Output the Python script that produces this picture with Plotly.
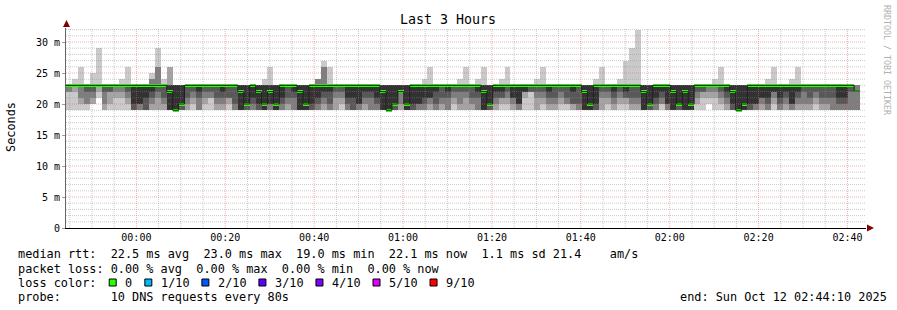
import plotly.graph_objects as go
from datetime import datetime, timedelta

# ---------------- data ----------------
start = datetime(2025, 10, 11, 23, 44, 10)
end = datetime(2025, 10, 12, 2, 44, 10)
step_s = 80

# median rtt per 80 s step (ms)
median = [23, 23, 23, 23, 23, 23, 23, 23, 23, 23,
          23, 23, 23, 23, 23, 23, 23, 22, 19, 20,
          23, 23, 23, 23, 23, 23, 23, 23, 23, 22,
          20, 23, 22, 20, 22, 20, 23, 23, 23, 22,
          20, 23, 23, 23, 23, 23, 23, 23, 23, 23,
          23, 23, 23, 22, 19, 20, 22, 20, 23, 23,
          23, 23, 23, 23, 23, 23, 23, 23, 23, 23,
          22, 20, 23, 23, 23, 23, 23, 23, 23, 23,
          23, 23, 23, 23, 23, 23, 23, 22, 20, 23,
          23, 23, 23, 23, 23, 23, 23, 22, 20, 23,
          23, 23, 22, 20, 22, 20, 23, 23, 23, 23,
          23, 23, 22, 19, 20, 23, 23, 23, 23, 23,
          23, 23, 23, 23, 23, 23, 23, 23, 23, 23,
          23, 23, 23, 22.1]

# sorted ping times, ranks 1..5 (ms)
p1 = [19, 19, 19, 19, 20, 21, 19, 19, 19, 19,
      19, 19, 19, 19, 19, 19, 19, 19, 19, 19,
      19, 19, 19, 19, 19, 19, 19, 19, 19, 19,
      19, 19, 19, 19, 19, 19, 19, 19, 19, 19,
      19, 19, 19, 19, 19, 19, 19, 19, 19, 19,
      19, 19, 19, 19, 19, 19, 19, 19, 19, 19,
      19, 19, 19, 19, 19, 19, 19, 19, 19, 19,
      19, 19, 19, 19, 19, 19, 19, 19, 19, 19,
      19, 19, 19, 19, 19, 19, 19, 19, 19, 19,
      19, 19, 19, 19, 19, 19, 19, 19, 19, 19,
      19, 19, 19, 19, 19, 19, 19, 19, 20, 19,
      19, 19, 19, 19, 19, 19, 19, 19, 19, 19,
      19, 19, 19, 19, 19, 19, 19, 19, 19, 19,
      19, 19, 19, 19]
p2 = [22, 22, 20, 20, 20, 22, 19, 20, 21, 21,
      20, 19, 19, 19, 19, 19, 19, 19, 19, 19,
      19, 20, 19, 20, 21, 19, 19, 20, 19, 19,
      19, 19, 19, 19, 19, 19, 19, 19, 19, 19,
      19, 19, 19, 19, 19, 19, 20, 19, 19, 19,
      19, 19, 19, 19, 19, 19, 19, 19, 19, 19,
      19, 19, 19, 19, 19, 20, 19, 19, 19, 19,
      19, 19, 19, 20, 20, 19, 19, 21, 22, 19,
      20, 19, 19, 20, 20, 19, 19, 19, 19, 19,
      19, 20, 19, 20, 20, 19, 19, 19, 19, 19,
      20, 19, 19, 19, 19, 19, 20, 21, 21, 21,
      20, 19, 19, 19, 19, 19, 19, 19, 19, 20,
      19, 19, 19, 19, 19, 19, 20, 19, 19, 19,
      19, 19, 19, 19]
p3 = [22, 23, 21, 20, 21, 23, 20, 22, 22, 22,
      21, 19, 19, 19, 20, 21, 20, 19, 19, 19,
      20, 21, 19, 21, 21, 20, 20, 21, 19, 19,
      19, 19, 19, 19, 19, 19, 19, 20, 19, 19,
      19, 19, 19, 20, 19, 21, 21, 19, 19, 19,
      20, 19, 19, 19, 19, 19, 20, 19, 19, 19,
      19, 20, 19, 20, 19, 21, 20, 21, 20, 19,
      19, 19, 20, 21, 21, 20, 19, 22, 22, 21,
      21, 20, 20, 21, 20, 20, 19, 19, 19, 19,
      21, 21, 20, 21, 21, 20, 20, 19, 19, 19,
      20, 19, 19, 19, 19, 19, 21, 22, 22, 22,
      21, 20, 19, 19, 19, 19, 19, 20, 19, 21,
      19, 20, 19, 20, 20, 20, 21, 20, 20, 19,
      19, 19, 19, 19]
p4 = [23, 23, 23, 22, 22, 23, 22, 22, 23, 23,
      22, 19, 20, 19, 21, 22, 21, 19, 19, 19,
      21, 22, 21, 22, 22, 21, 21, 21, 20, 19,
      19, 20, 19, 19, 20, 19, 20, 21, 21, 19,
      19, 19, 20, 21, 20, 22, 22, 20, 19, 20,
      21, 21, 20, 19, 19, 19, 22, 19, 19, 20,
      20, 21, 20, 21, 21, 22, 22, 22, 21, 21,
      19, 19, 21, 21, 22, 21, 20, 22, 22, 22,
      22, 21, 21, 22, 21, 20, 20, 19, 19, 19,
      22, 22, 21, 22, 21, 21, 21, 19, 19, 20,
      21, 20, 19, 19, 19, 19, 22, 22, 23, 23,
      22, 21, 19, 19, 19, 19, 20, 21, 20, 22,
      20, 21, 20, 21, 22, 21, 22, 21, 21, 21,
      20, 20, 22, 23]
p5 = [23, 23, 23, 23, 23, 23, 23, 23, 23, 23,
      23, 20, 20, 21, 22, 23, 23, 19, 19, 20,
      23, 23, 22, 23, 23, 23, 22, 23, 23, 19,
      20, 21, 20, 19, 20, 19, 21, 23, 22, 19,
      19, 20, 21, 22, 22, 23, 23, 21, 21, 20,
      22, 22, 21, 19, 19, 20, 22, 19, 20, 20,
      21, 21, 22, 23, 22, 23, 23, 23, 23, 22,
      19, 20, 22, 22, 23, 21, 20, 22, 23, 23,
      23, 22, 23, 23, 23, 22, 23, 19, 19, 20,
      23, 23, 22, 23, 22, 23, 23, 19, 20, 21,
      22, 20, 19, 20, 19, 19, 23, 23, 23, 23,
      23, 22, 20, 19, 19, 20, 20, 21, 21, 22,
      21, 22, 20, 22, 23, 23, 23, 23, 23, 23,
      21, 21, 23, 23]

# ranks 6..10: the slow pings sit at 23 ms except in these steps
usual_top = 23
slow_steps = [1, 2, 4, 5, 9, 10, 14, 15, 16, 17, 33, 34, 42, 43, 44, 60, 61, 66, 67, 69, 70,
              73, 74, 79, 80, 89, 90, 93, 94, 95, 96, 109, 110, 118, 119, 122, 123]
slow_p8 = [23, 23, 23, 23, 23, 23, 24, 26, 23, 23, 23, 23, 24, 26, 23, 23, 23, 23, 23, 23, 23,
           23, 23, 23, 23, 23, 23, 23, 23, 23, 23, 23, 23, 23, 23, 23, 23]
slow_p9 = [23, 23, 23, 23, 23, 23, 24, 26, 23, 26, 23, 23, 24, 26, 23, 23, 23, 23, 23, 23, 23,
           23, 23, 23, 23, 23, 23, 23, 23, 23, 23, 23, 23, 23, 23, 23, 23]
slow_p10 = [24, 26, 25, 29, 24, 26, 25, 29, 24, 26, 24, 26, 24, 27, 26, 24, 26, 24, 26, 24, 26,
            24, 26, 24, 26, 24, 26, 24, 27, 29, 32, 24, 26, 24, 26, 24, 26]

n = len(median)
p6 = [usual_top] * n
p7 = [usual_top] * n
p8 = [usual_top] * n
p9 = [usual_top] * n
p10 = [usual_top] * n
for i, a, b, c in zip(slow_steps, slow_p8, slow_p9, slow_p10):
    p8[i], p9[i], p10[i] = a, b, c
pings = [p1, p2, p3, p4, p5, p6, p7, p8, p9, p10]

smoke_colors = ["#cacaca", "#a4a4a4", "#7e7e7e", "#585858", "#323232"]

# ---------------- geometry helpers ----------------
L, R, T, B = 66, 31, 28, 82
W, H = 897, 310
PW, PH = W - L - R, H - T - B
YMAX = 32.26


def px(x):
    return (x - L) / PW


def py(y):
    return (H - B - y) / PH


fig = go.Figure()
centers = [start + timedelta(seconds=step_s * (i + 0.5)) for i in range(n)]

for k in range(5):
    lo = pings[k]
    hi = pings[9 - k]
    fig.add_trace(go.Bar(x=centers, base=lo, y=[h - l for h, l in zip(hi, lo)],
                         width=step_s * 1000, marker=dict(color=smoke_colors[k], line=dict(width=0)),
                         hoverinfo="skip", showlegend=False))

# grid drawn over the smoke (as rrdtool does)
minor_col = "rgba(140,140,140,0.45)"
major_col = "rgba(225,100,100,0.5)"
gx_min, gx_maj = [], []
t = datetime(2025, 10, 11, 23, 45, 0)
while t < end:
    tgt = gx_maj if (t.minute % 20 == 0) else gx_min
    tgt += [t, t, None]
    t += timedelta(minutes=5)
fig.add_trace(go.Scatter(x=gx_min, y=[0, YMAX, None] * (len(gx_min) // 3), mode="lines",
                         line=dict(color=minor_col, width=1, dash="1px,1px"), hoverinfo="skip", showlegend=False))
fig.add_trace(go.Scatter(x=gx_maj, y=[0, YMAX, None] * (len(gx_maj) // 3), mode="lines",
                         line=dict(color=major_col, width=1, dash="1px,1px"), hoverinfo="skip", showlegend=False))
hy_min, hy_maj = [], []
for v in range(1, 33):
    (hy_maj if v % 5 == 0 else hy_min).extend([v, v, None])
fig.add_trace(go.Scatter(x=[start, end, None] * (len(hy_min) // 3), y=hy_min, mode="lines",
                         line=dict(color=minor_col, width=1, dash="1px,1px"), hoverinfo="skip", showlegend=False))
fig.add_trace(go.Scatter(x=[start, end, None] * (len(hy_maj) // 3), y=hy_maj, mode="lines",
                         line=dict(color=major_col, width=1, dash="1px,1px"), hoverinfo="skip", showlegend=False))

# median: thin dark step line plus loss-coloured band
edges = [start + timedelta(seconds=step_s * i) for i in range(n + 1)]
fig.add_trace(go.Scatter(x=edges, y=median + [median[-1]], mode="lines",
                         line=dict(color="#202020", width=1, shape="hv"),
                         hoverinfo="skip", showlegend=False))
sw = 0.24
fig.add_trace(go.Bar(x=centers, base=[m - sw for m in median], y=[2 * sw] * n, width=step_s * 1000,
                     marker=dict(color="#26ff00", line=dict(width=0)), hoverinfo="skip", showlegend=False))

mono = "DejaVu Sans Mono"
fig.update_layout(
    width=W, height=H, margin=dict(l=L, r=R, t=T, b=B, autoexpand=False),
    paper_bgcolor="white", plot_bgcolor="white",
    barmode="overlay", bargap=0,
    showlegend=False,
    xaxis=dict(type="date", range=[start, end], showgrid=False, zeroline=False, automargin=False,
               tick0="2025-10-12 00:00:00", dtick=20 * 60 * 1000, tickformat="%H:%M",
               tickfont=dict(family=mono, size=10, color="#000"), ticks="",
               showline=True, linecolor="#000", linewidth=1),
    yaxis=dict(range=[0, YMAX], showgrid=False, zeroline=False, automargin=False,
               tickvals=[0, 5, 10, 15, 20, 25, 30],
               ticktext=["0", "5 m", "10 m", "15 m", "20 m", "25 m", "30 m"],
               tickfont=dict(family=mono, size=10, color="#000"), ticks="outside", ticklen=3,
               tickcolor="rgba(130,30,30,0.5)",
               showline=True, linecolor="#666", linewidth=1),
)

# arrows
fig.add_shape(type="path", xref="paper", yref="paper", layer="above",
              path=f"M {px(63)} {py(27)} L {px(66.5)} {py(20)} L {px(70)} {py(27)} Z",
              fillcolor="#800000", line=dict(width=0))
fig.add_shape(type="path", xref="paper", yref="paper", layer="above",
              path=f"M {px(867)} {py(224.5)} L {px(874)} {py(228)} L {px(867)} {py(231.5)} Z",
              fillcolor="#800000", line=dict(width=0))

ann = []
ann.append(dict(text="Last 3 Hours", x=px(448), y=py(20), xref="paper", yref="paper",
                xanchor="center", yanchor="middle",
                showarrow=False, font=dict(family=mono, size=13.3, color="#000")))
ann.append(dict(text="Seconds", x=px(11), y=py(127), xref="paper", yref="paper",
                xanchor="center", yanchor="middle", textangle=-90,
                showarrow=False, font=dict(family=mono, size=11.85, color="#000")))
ann.append(dict(text="RRDTOOL / TOBI OETIKER", x=px(887), y=py(60), xref="paper", yref="paper",
                xanchor="center", yanchor="middle",
                showarrow=False, textangle=90, font=dict(family=mono, size=8.3, color="#b0b0b0")))

NB = "\u00a0"
lines = [
    ("median rtt:  22.5 ms avg  23.0 ms max  19.0 ms min  22.1 ms now  1.1 ms sd 21.4    am/s", 254.3),
    ("packet loss: 0.00 % avg  0.00 % max  0.00 % min  0.00 % now", 268.5),
    ("loss color:", 282.7),
    ("probe:       10 DNS requests every 80s", 296.9),
]
for txt, yy in lines:
    ann.append(dict(text=txt.replace(" ", NB), x=px(16), y=py(yy), xref="paper", yref="paper",
                    xanchor="left", yanchor="middle", showarrow=False,
                    font=dict(family=mono, size=11.85, color="#000")))
ann.append(dict(text="end: Sun Oct 12 02:44:10 2025".replace(" ", NB), x=px(678), y=py(296.9),
                xref="paper", yref="paper", xanchor="left", yanchor="middle", showarrow=False,
                font=dict(family=mono, size=11.85, color="#000")))

loss_labels = ["0", "1/10", "2/10", "3/10", "4/10", "5/10", "9/10"]
loss_colors = ["#26ff00", "#00b8ff", "#0059ff", "#5e00ff", "#7e00ff", "#dd00ff", "#ff0000"]
loss_cols = [13, 18, 26, 34, 42, 50, 58]
cw = 7.13
for lab, c, col in zip(loss_labels, loss_colors, loss_cols):
    x0 = 16 + col * cw
    fig.add_shape(type="rect", xref="paper", yref="paper", x0=px(x0 + 0.5), x1=px(x0 + 7.5),
                  y0=py(286), y1=py(279), fillcolor=c, line=dict(color="#000", width=1))
    ann.append(dict(text=lab, x=px(x0 + 2 * cw), y=py(282.7), xref="paper", yref="paper",
                    xanchor="left", yanchor="middle", showarrow=False,
                    font=dict(family=mono, size=11.85, color="#000")))

fig.update_layout(annotations=ann)
fig.write_html("out.html")
